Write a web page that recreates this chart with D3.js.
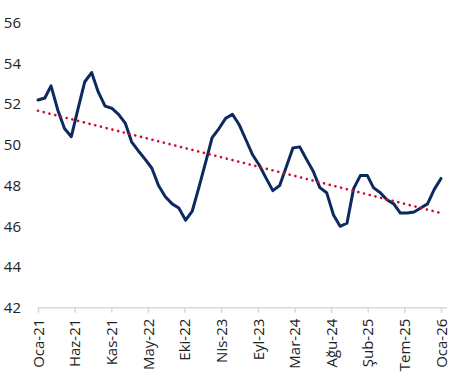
<!DOCTYPE html>
<html>
<head>
<meta charset="utf-8">
<script src="https://cdn.jsdelivr.net/npm/d3@7/dist/d3.min.js"></script>
<style>
  html, body { margin: 0; padding: 0; background: #ffffff; }
  svg { display: block; }
  text { font-family: "Open Sans", "DejaVu Sans", sans-serif; }
</style>
</head>
<body>
<svg id="chart" width="469" height="382"></svg>
<script>
// ---- data ----
const startMonth = "2021-01";
const values = [
  52.2, 52.3, 52.9, 51.7, 50.8, 50.4, 51.75, 53.1, 53.55, 52.6, 51.9, 51.8,
  51.5, 51.05, 50.15, 49.7, 49.3, 48.85, 48.0, 47.45, 47.1, 46.9, 46.3, 46.75,
  47.95, 49.2, 50.35, 50.8, 51.3, 51.5, 51.0, 50.25, 49.5, 49.0, 48.35, 47.75,
  48.0, 48.95, 49.85, 49.9, 49.3, 48.7, 47.9, 47.65, 46.55, 46.0, 46.15, 47.85,
  48.5, 48.5, 47.9, 47.65, 47.3, 47.1, 46.65, 46.65, 46.7, 46.9, 47.1, 47.8,
  48.35
];
const tickLabels = ["Oca-21", "Haz-21", "Kas-21", "May-22", "Eki-22", "Nis-23",
  "Eyl-23", "Mar-24", "Ağu-24", "Şub-25", "Tem-25", "Oca-26"];
const tickStepDays = 166;
const yTicks = [42, 44, 46, 48, 50, 52, 54, 56];

// ---- build ----
const parse = d3.utcParse("%Y-%m");
const t0 = parse(startMonth);
const data = values.map((v, i) => ({ date: d3.utcMonth.offset(t0, i), i, v }));
const tEnd = data[data.length - 1].date;
const tickDates = tickLabels.map((_, i) => d3.utcDay.offset(t0, tickStepDays * i));

const svg = d3.select("#chart");
const x = d3.scaleUtc().domain([t0, tEnd]).range([38, 441]);
const y = d3.scaleLinear().domain([42, 56]).range([307.7, 22.7]);

// y axis labels
const ya = svg.append("g").attr("transform", "translate(38,0)")
  .call(d3.axisLeft(y).tickValues(yTicks).tickSize(0).tickPadding(17).tickFormat(d3.format("d")));
ya.select(".domain").remove();
ya.selectAll("text").attr("font-size", 15).attr("fill", "#222")
  .style("font-family", "'Open Sans', sans-serif");

// x axis
const xa = svg.append("g").attr("transform", "translate(0,307.7)")
  .call(d3.axisBottom(x).tickValues(tickDates).tickSize(5).tickSizeOuter(0)
    .tickFormat((d, i) => tickLabels[i]));
xa.select(".domain").attr("stroke", "#d9d9d9").attr("stroke-width", 1.6)
  .attr("d", `M${x(t0)},0H${x(tEnd) + 6}`);
xa.selectAll(".tick line").attr("stroke", "#d9d9d9").attr("stroke-width", 1.6);
xa.selectAll("text")
  .attr("font-size", 15).attr("fill", "#222")
  .style("font-family", "'Open Sans', sans-serif")
  .attr("transform", "rotate(-90)")
  .attr("text-anchor", "end")
  .attr("x", -11).attr("y", 0).attr("dy", "0.35em");

// series line
svg.append("path").datum(data)
  .attr("fill", "none").attr("stroke", "#0c2a5e").attr("stroke-width", 3)
  .attr("stroke-linejoin", "round").attr("stroke-linecap", "round")
  .attr("d", d3.line().x(d => x(d.date)).y(d => y(d.v)));

// linear trend (least squares over the series)
const n = data.length;
const mx = d3.mean(data, d => d.i), my = d3.mean(data, d => d.v);
const slope = d3.sum(data, d => (d.i - mx) * (d.v - my)) / d3.sum(data, d => (d.i - mx) ** 2);
const icpt = my - slope * mx;
const trend = [data[0], data[n - 1]].map(d => ({ date: d.date, v: icpt + slope * d.i }));
svg.append("path").datum(trend)
  .attr("fill", "none").attr("stroke", "#c8102e").attr("stroke-width", 2.6)
  .attr("stroke-linecap", "round").attr("stroke-dasharray", "0.1 5.8")
  .attr("d", d3.line().x(d => x(d.date)).y(d => y(d.v)));
</script>
</body>
</html>
